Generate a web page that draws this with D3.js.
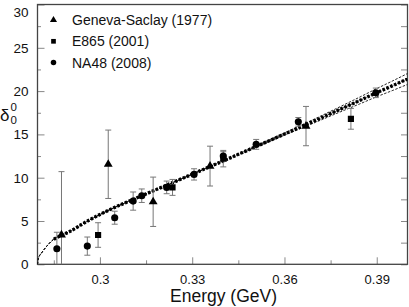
<!DOCTYPE html>
<html>
<head>
<meta charset="utf-8">
<script src="https://cdn.jsdelivr.net/npm/d3@7/dist/d3.min.js"></script>
<style>
  html, body { margin: 0; padding: 0; background: #fff; }
  svg { display: block; font-family: "Liberation Sans", Arial, sans-serif; }
</style>
</head>
<body>
<div id="chart"></div>
<script>
// Geneva-Saclay (1977)
const gsEnergy = [0.2875, 0.3027, 0.3173, 0.3358, 0.3670];
const gsDelta = [3.4, 11.55, 7.22, 11.34, 15.96];
const gsErr = [7.3, 3.95, 2.85, 2.3, 2.27];

// E865 (2001)
const e865Energy = [0.2994, 0.3236, 0.3401, 0.3816];
const e865Delta = [3.38, 8.88, 12.2, 16.8];
const e865Err = [1.42, 0.92, 0.95, 1.2];

// NA48 (2008)
const na48Energy = [0.2860, 0.2959, 0.3048, 0.3108, 0.3136, 0.3217, 0.3306, 0.3401, 0.3508, 0.3645, 0.3897];
const na48Delta = [1.8, 2.1, 5.38, 7.3, 7.92, 8.88, 10.38, 12.5, 13.85, 16.45, 19.8];
const na48Err = [1.9, 1.05, 0.75, 1.05, 0.78, 0.73, 0.65, 0.5, 0.57, 0.5, 0.55];

// theory curve and its band
const curveEnergy = [0.2797, 0.2800, 0.2810, 0.2825, 0.2850, 0.2875, 0.290, 0.295, 0.300, 0.305, 0.310, 0.315, 0.320, 0.325, 0.330, 0.335, 0.340, 0.345, 0.350, 0.355, 0.360, 0.365, 0.370, 0.375, 0.380, 0.385, 0.390, 0.395, 0.400];
const curveDelta = [0, 0.7, 1.3, 2.0, 2.9, 3.35, 3.75, 4.8, 5.75, 6.6, 7.37, 8.13, 8.89, 9.64, 10.4, 11.16, 11.92, 12.7, 13.48, 14.26, 15.04, 15.82, 16.6, 17.4, 18.2, 19.0, 19.82, 20.6, 21.4];
const bandUpper = [0, 0.7, 1.3, 2.0, 2.9, 3.35, 3.75, 4.8, 5.75, 6.6, 7.37, 8.13, 8.89, 9.64, 10.4, 11.19, 11.97, 12.76, 13.56, 14.36, 15.17, 15.99, 16.82, 17.67, 18.53, 19.4, 20.29, 21.15, 22.03];
const bandLower = [0, 0.7, 1.3, 2.0, 2.9, 3.35, 3.75, 4.8, 5.75, 6.6, 7.37, 8.13, 8.89, 9.64, 10.4, 11.13, 11.87, 12.64, 13.4, 14.16, 14.91, 15.65, 16.38, 17.13, 17.87, 18.6, 19.35, 20.05, 20.77];

const xMajor = [0.3, 0.33, 0.36, 0.39];
const xMinor = [0.285, 0.315, 0.345, 0.375];
const yMajor = [0, 5, 10, 15, 20, 25, 30];
const yMinor = [2.5, 7.5, 12.5, 17.5, 22.5, 27.5];

const legendItems = [
  { label: "Geneva-Saclay (1977)", shape: "triangle" },
  { label: "E865 (2001)", shape: "square" },
  { label: "NA48 (2008)", shape: "circle" }
];

const width = 409, height = 307;
const margin = { top: 4.5, right: 1.5, bottom: 42.7, left: 37.5 };
const iw = width - margin.left - margin.right;
const ih = height - margin.top - margin.bottom;

const svg = d3.select("#chart").append("svg")
  .attr("width", width).attr("height", height);

const x = d3.scaleLinear().domain([0.2797, 0.4]).range([margin.left, margin.left + iw]);
const y = d3.scaleLinear().domain([0, 30]).range([margin.top + ih, margin.top]);

svg.append("clipPath").attr("id", "plot-clip")
  .append("rect")
  .attr("x", margin.left).attr("y", margin.top)
  .attr("width", iw).attr("height", ih);

const tickColor = "#888";

// bottom ticks (inward)
const bottom = svg.append("g").attr("transform", `translate(0,${margin.top + ih})`);
bottom.call(d3.axisBottom(x).tickValues(xMajor).tickSizeInner(-7).tickSizeOuter(0).tickPadding(10).tickFormat(d3.format("")));
bottom.append("g").call(d3.axisBottom(x).tickValues(xMinor).tickSizeInner(-4).tickSizeOuter(0).tickFormat(""));
bottom.selectAll(".domain").remove();
bottom.selectAll("line").attr("stroke", tickColor);
bottom.selectAll("text").attr("font-size", 13).attr("fill", "#111")
  .attr("font-family", "'Liberation Sans', Arial, sans-serif");

// left ticks (inward)
const left = svg.append("g").attr("transform", `translate(${margin.left},0)`);
left.call(d3.axisLeft(y).tickValues(yMajor).tickSizeInner(-7).tickSizeOuter(0).tickPadding(9));
left.append("g").call(d3.axisLeft(y).tickValues(yMinor).tickSizeInner(-3.5).tickSizeOuter(0).tickFormat(""));
left.selectAll(".domain").remove();
left.selectAll("line").attr("stroke", tickColor);
left.selectAll("text").attr("font-size", 13.5).attr("fill", "#111")
  .attr("font-family", "'Liberation Sans', Arial, sans-serif");
// top label sits a little lower so it stays inside the page
left.selectAll(".tick").filter((d) => d === 30).select("text").attr("dy", "0.9em");

// right ticks (inward)
const right = svg.append("g").attr("transform", `translate(${margin.left + iw},0)`);
right.call(d3.axisRight(y).tickValues(yMajor.concat(yMinor)).tickSizeInner(-6.5).tickSizeOuter(0).tickFormat(""));
right.selectAll(".domain").remove();
right.selectAll("line").attr("stroke", tickColor);

// frame
svg.append("rect")
  .attr("x", margin.left).attr("y", margin.top)
  .attr("width", iw).attr("height", ih)
  .attr("fill", "none").attr("stroke", "#444").attr("stroke-width", 1.3);

const plot = svg.append("g").attr("clip-path", "url(#plot-clip)");

// theory band and curve
const curvePts = curveEnergy.map((e, i) => ({ e, d: curveDelta[i], u: bandUpper[i], l: bandLower[i] }));
const lineOf = (key) => d3.line().x((p) => x(p.e)).y((p) => y(p[key])).curve(d3.curveMonotoneX);

["u", "l", "d"].forEach((k) => {
  plot.append("path").datum(curvePts)
    .attr("d", lineOf(k))
    .attr("fill", "none").attr("stroke", "#111")
    .attr("stroke-width", 0.9).attr("stroke-dasharray", "2.5,1.5");
});
plot.append("path").datum(curvePts.filter((p) => p.e >= 0.2845))
  .attr("d", lineOf("d"))
  .attr("fill", "none").attr("stroke", "#000")
  .attr("stroke-width", 3.4).attr("stroke-dasharray", "2.6,1.6");

// error bars
function drawErrors(es, ds, errs) {
  const g = plot.append("g").attr("stroke", "#777").attr("stroke-width", 1);
  es.forEach((e, i) => {
    const cx = x(e), top = y(ds[i] + errs[i]), bot = y(ds[i] - errs[i]);
    g.append("line").attr("x1", cx).attr("x2", cx).attr("y1", top).attr("y2", bot);
    g.append("line").attr("x1", cx - 3).attr("x2", cx + 3).attr("y1", top).attr("y2", top);
    g.append("line").attr("x1", cx - 3).attr("x2", cx + 3).attr("y1", bot).attr("y2", bot);
  });
}
drawErrors(gsEnergy, gsDelta, gsErr);
drawErrors(e865Energy, e865Delta, e865Err);
drawErrors(na48Energy, na48Delta, na48Err);

const sym = {
  triangle: d3.symbol().type(d3.symbolTriangle),
  square: d3.symbol().type(d3.symbolSquare),
  circle: d3.symbol().type(d3.symbolCircle)
};

function drawMarkers(es, ds, shape, size) {
  plot.append("g").selectAll("path")
    .data(es.map((e, i) => [e, ds[i]]))
    .join("path")
    .attr("d", sym[shape].size(size)())
    .attr("transform", (p) => `translate(${x(p[0])},${y(p[1])})`)
    .attr("fill", "#000");
}
drawMarkers(gsEnergy, gsDelta, "triangle", 34);
drawMarkers(e865Energy, e865Delta, "square", 38);
drawMarkers(na48Energy, na48Delta, "circle", 40);

// legend
const legend = svg.append("g");
legendItems.forEach((it, i) => {
  const ly = 20 + i * 21.3;
  legend.append("path")
    .attr("d", sym[it.shape].size(it.shape === "circle" ? 24 : 22)())
    .attr("transform", `translate(53.5,${ly})`)
    .attr("fill", "#000");
  legend.append("text")
    .attr("x", 72).attr("y", ly + 5)
    .attr("font-size", 14).attr("fill", "#111")
    .text(it.label);
});

// axis titles
svg.append("text")
  .attr("x", 223.5).attr("y", 301.5)
  .attr("text-anchor", "middle")
  .attr("font-size", 17.5).attr("fill", "#111")
  .text("Energy (GeV)");

const yt = svg.append("text").attr("x", 0).attr("y", 121).attr("fill", "#111");
yt.append("tspan").attr("font-size", 17).text("\u03b4");
yt.append("tspan").attr("font-size", 11.5).attr("x", 10.5).attr("y", 111).text("0");
yt.append("tspan").attr("font-size", 11.5).attr("x", 10.5).attr("y", 124).text("0");
</script>
</body>
</html>
